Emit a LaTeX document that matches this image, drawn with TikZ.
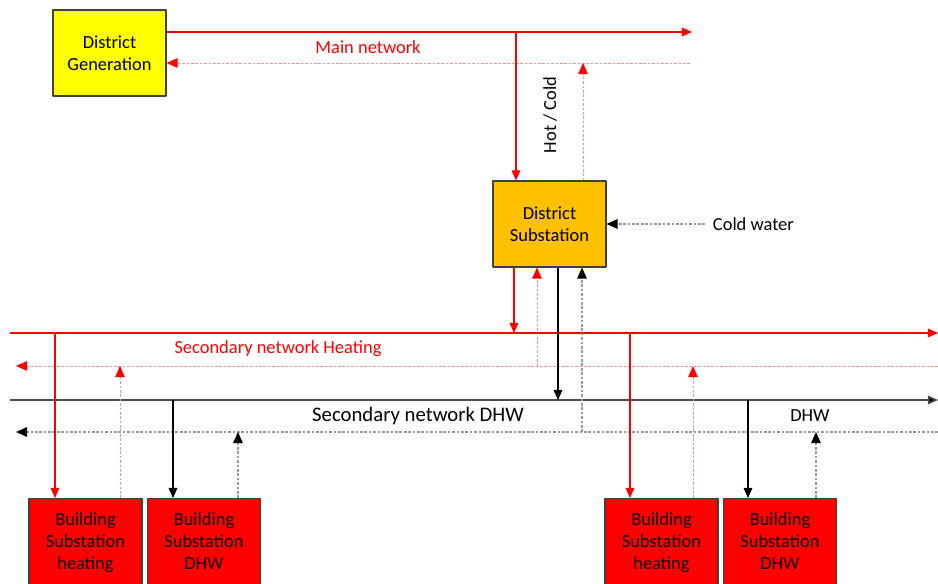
\documentclass[tikz,border=0pt]{standalone}
\usepackage{fontspec}
\setmainfont{Carlito}
\usetikzlibrary{arrows.meta}
\definecolor{genyellow}{RGB}{255,255,0}
\definecolor{suborange}{RGB}{255,192,0}
\definecolor{bldred}{RGB}{255,0,0}
\definecolor{retred}{RGB}{255,140,140}
\begin{document}
\begin{tikzpicture}[x=0.02cm, y=-0.02cm, font=\fontsize{10.5}{12.5}\selectfont, line join=round, >={Triangle[length=5.8pt,width=5pt]},
  box/.style={draw=black!75, line width=0.6pt, minimum width=2.26cm, align=center, inner sep=1pt},
  supply/.style={red, line width=0.6pt},
  retour/.style={retred, dash pattern=on 1.5pt off 1pt, line width=0.5pt, >={Triangle[length=6.3pt,width=5.4pt,fill=red,color=red]}},
  dhwline/.style={black, line width=0.6pt},
  dhwret/.style={black!40, dash pattern=on 1.5pt off 1pt, line width=0.7pt, >={Triangle[length=6.3pt,width=5.4pt,fill=black,color=black]}}]
  \useasboundingbox (0,0) rectangle (938,584);
  \clip (0,0) rectangle (938,584);
  % boxes
  \node[box, fill=genyellow, minimum height=1.72cm] (gen) at (109.5,53) {District\\Generation};
  \node[box, fill=suborange, minimum height=1.72cm] (sub) at (549.5,224) {District\\Substation};
  \node[box, fill=bldred, minimum height=1.8cm, anchor=north] (bh1) at (85.5,498) {};
  \node[box, fill=bldred, minimum height=1.8cm, anchor=north] (bd1) at (204,498) {};
  \node[box, fill=bldred, minimum height=1.8cm, anchor=north] (bh2) at (661.5,498) {};
  \node[box, fill=bldred, minimum height=1.8cm, anchor=north] (bd2) at (780,498) {};
  \foreach \b/\t in {bh1/heating, bd1/DHW, bh2/heating, bd2/DHW}
    \node[align=center] (\b-txt) at (\b.north |- 0,543.5) {\strut Building\\Substation\\\t\strut};
  % main network
  \coordinate (mainS) at (692,32);
  \coordinate (mainR) at (690,63);
  \coordinate (j1) at (516,32);
  \coordinate (j2) at (583,63);
  \draw[supply,->] (gen.east |- mainS) -- (mainS);
  \draw[retour,->] (mainR) -- (gen.east |- mainR);
  \draw[supply,->] (j1) -- (j1 |- sub.north);
  \draw[retour,->] (j2 |- sub.north) -- (j2);
  \node[red] (mainlbl) at (368,47) {Main network};
  \node[rotate=90] (hotcold) at (550,115) {Hot / Cold};
  % cold water
  \coordinate (cw) at (705,224);
  \draw[dhwret,->] (cw) -- (sub.east);
  \node[anchor=west] (cwlbl) at (cw) {\hspace{1pt}Cold water};
  % secondary networks
  \coordinate (hsL) at (10,333);  \coordinate (hsR) at (938,333);
  \coordinate (hrL) at (16,366);  \coordinate (hrR) at (938,366);
  \coordinate (dsL) at (10,400);  \coordinate (dsR) at (938,400);
  \coordinate (drL) at (16,432);  \coordinate (drR) at (938,432);
  \draw[supply,->] (hsL) -- (hsR);
  \draw[retour,->] (hrR) -- (hrL);
  \draw[black!70, line width=0.9pt,->,>={Triangle[length=5.8pt,width=5pt,fill=black]}] (dsL) -- (dsR);
  \draw[dhwret,->] (drR) -- (drL);
  \node[red] (heatlbl) at (278,349) {Secondary network Heating};
  \node[font=\fontsize{11.8}{14}\selectfont] (dhwlbl) at (418,416) {Secondary network DHW};
  \node (dhwlbl2) at (810,416) {DHW};
  % substation to secondary
  \coordinate (s1) at (514,333);
  \coordinate (s2) at (537,366);
  \coordinate (s3) at (558,400);
  \coordinate (s4) at (582,432);
  \draw[supply,->] (s1 |- sub.south) -- (s1);
  \draw[retour,->] (s2) -- (s2 |- sub.south);
  \draw[dhwline,->] (s3 |- sub.south) -- (s3);
  \draw[dhwret,->] (s4) -- (s4 |- sub.south);
  % buildings
  \foreach \b/\hx/\rx in {bh1/55/120, bh2/630/693}{
    \coordinate (\b-in) at (\hx,333);
    \coordinate (\b-out) at (\rx,366);
    \draw[supply,->] (\b-in) -- (\b-in |- \b.north);
    \draw[retour,->] (\b-out |- \b.north) -- (\b-out);
  }
  \foreach \b/\hx/\rx in {bd1/173/238, bd2/748/816}{
    \coordinate (\b-in) at (\hx,400);
    \coordinate (\b-out) at (\rx,432);
    \draw[dhwline,->] (\b-in) -- (\b-in |- \b.north);
    \draw[dhwret,->] (\b-out |- \b.north) -- (\b-out);
  }
\end{tikzpicture}
\end{document}
